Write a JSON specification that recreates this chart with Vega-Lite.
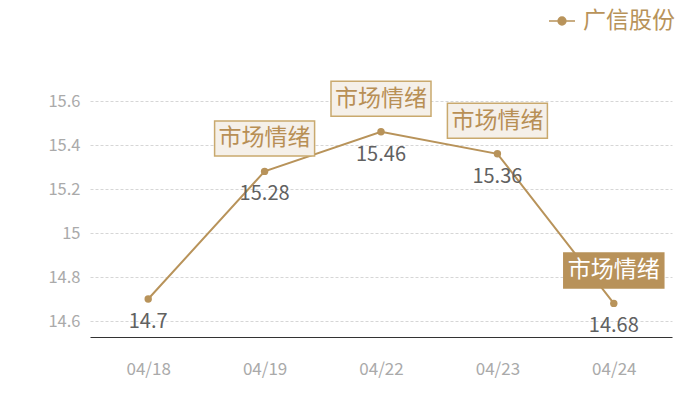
{
  "$schema": "https://vega.github.io/schema/vega-lite/v6.json",
  "width": 582,
  "height": 280,
  "autosize": {"type": "none"},
  "padding": {"left": 90, "top": 57, "right": 28, "bottom": 63},
  "background": "#ffffff",
  "config": {
    "font": "Noto Sans CJK SC",
    "view": {"stroke": null}
  },
  "data": {
    "values": [
      {"date": "04/18", "value": 14.7, "label": "14.7", "series": "广信股份", "note": null, "kind": null},
      {"date": "04/19", "value": 15.28, "label": "15.28", "series": "广信股份", "note": "市场情绪", "kind": "normal"},
      {"date": "04/22", "value": 15.46, "label": "15.46", "series": "广信股份", "note": "市场情绪", "kind": "normal"},
      {"date": "04/23", "value": 15.36, "label": "15.36", "series": "广信股份", "note": "市场情绪", "kind": "normal"},
      {"date": "04/24", "value": 14.68, "label": "14.68", "series": "广信股份", "note": "市场情绪", "kind": "highlight"}
    ]
  },
  "encoding": {
    "x": {
      "field": "date", "type": "ordinal", "sort": null,
      "scale": {"type": "point", "padding": 0.5},
      "axis": {
        "title": null, "labelAngle": 0, "ticks": false, "grid": false,
        "domainColor": "#333333", "domainWidth": 1.2,
        "labelColor": "#aaaaaa", "labelFontSize": 17, "labelPadding": 24
      }
    },
    "y": {
      "field": "value", "type": "quantitative",
      "scale": {"domain": [14.5273, 15.8], "nice": false, "zero": false},
      "axis": {
        "title": null, "values": [14.6, 14.8, 15, 15.2, 15.4, 15.6], "format": "~g",
        "domain": false, "ticks": false,
        "gridColor": "#d6d6d6", "gridDash": [3, 2], "gridWidth": 1,
        "labelColor": "#aaaaaa", "labelFontSize": 16.5, "labelPadding": 10
      }
    }
  },
  "layer": [
    {
      "mark": {"type": "line", "strokeWidth": 2},
      "encoding": {
        "color": {
          "field": "series", "type": "nominal",
          "scale": {"range": ["#b8935a"]},
          "legend": {
            "title": null, "orient": "none", "legendX": 458, "legendY": -50,
            "symbolType": "M-1,0L-0.32,0M0.32,0L1,0M-0.3,0A0.3,0.3 0 1,0 0.3,0A0.3,0.3 0 1,0 -0.3,0Z",
            "symbolSize": 676, "symbolStrokeWidth": 1.5,
            "symbolFillColor": "#b8935a", "symbolStrokeColor": "#b8935a",
            "labelFontSize": 23, "labelColor": "#b8935a", "labelOffset": 7
          }
        }
      }
    },
    {
      "mark": {"type": "point", "filled": true, "size": 55, "opacity": 1, "color": "#b8935a"}
    },
    {
      "mark": {"type": "text", "yOffset": 23, "fontSize": 20, "color": "#616161", "baseline": "middle"},
      "encoding": {"text": {"field": "label"}}
    },
    {
      "transform": [{"filter": "datum.kind == 'normal'"}],
      "mark": {
        "type": "point", "filled": true, "opacity": 1, "strokeWidth": 1.5,
        "yOffset": -33, "size": 10000, "fill": "#f5f0e9", "stroke": "#c9a96e",
        "shape": "M-1,-0.35H1V0.35H-1Z"
      }
    },
    {
      "transform": [{"filter": "datum.kind == 'highlight'"}],
      "mark": {
        "type": "point", "filled": true, "opacity": 1, "strokeWidth": 1.5,
        "yOffset": -33, "size": 10000, "fill": "#b8925a", "stroke": "#b8925a",
        "shape": "M-1,-0.35H1V0.35H-1Z"
      }
    },
    {
      "transform": [{"filter": "datum.kind == 'normal'"}],
      "mark": {"type": "text", "yOffset": -33, "fontSize": 23, "baseline": "middle", "color": "#b88f55"},
      "encoding": {"text": {"field": "note"}}
    },
    {
      "transform": [{"filter": "datum.kind == 'highlight'"}],
      "mark": {"type": "text", "yOffset": -33, "fontSize": 23, "baseline": "middle", "color": "#ffffff"},
      "encoding": {"text": {"field": "note"}}
    }
  ]
}
